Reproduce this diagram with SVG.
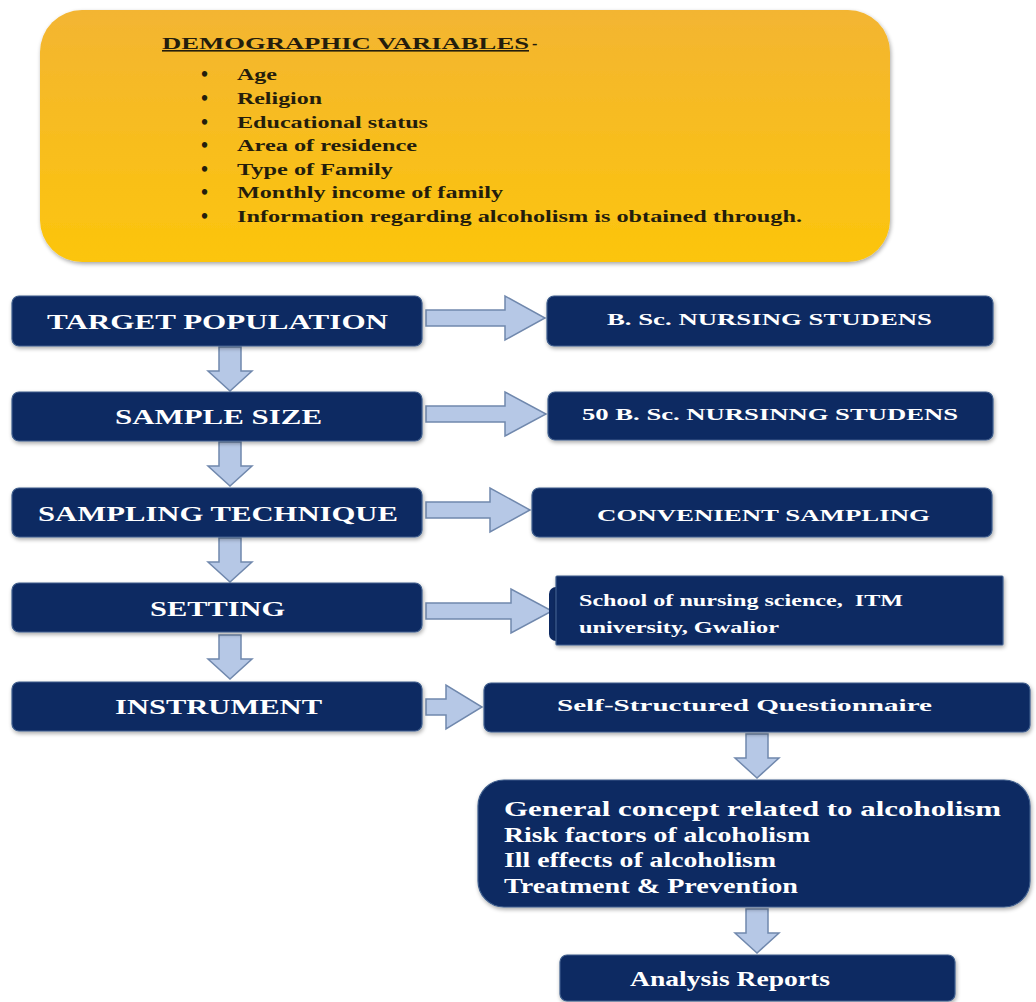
<svg xmlns="http://www.w3.org/2000/svg" width="1036" height="1002" viewBox="0 0 1036 1002">
<defs>
<linearGradient id="yg" x1="0" y1="0" x2="0" y2="1">
<stop offset="0" stop-color="#f3b532"/>
<stop offset="1" stop-color="#fcc50c"/>
</linearGradient>
<path id="darrow" d="M-11,0 H11 V24 H22 L0,44 L-22,24 H-11 Z"/>
<filter id="sh" x="-5%" y="-20%" width="110%" height="140%">
<feGaussianBlur in="SourceAlpha" stdDeviation="2"/>
<feOffset dx="1" dy="2"/>
<feComponentTransfer><feFuncA type="linear" slope="0.35"/></feComponentTransfer>
<feMerge><feMergeNode/><feMergeNode in="SourceGraphic"/></feMerge>
</filter>
</defs>
<style>
.box{fill:#0e2a62;stroke:#3d5d8c;stroke-width:1.2;filter:url(#sh)}
.arr{fill:#b6c8e6;stroke:#7088ad;stroke-width:1.5}
.lt{font-family:"Liberation Serif",serif;font-weight:bold;fill:#ffffff;font-size:21px}
.rt{font-family:"Liberation Serif",serif;font-weight:bold;fill:#ffffff;font-size:17px}
.gt{font-family:"Liberation Serif",serif;font-weight:bold;fill:#ffffff;font-size:22px}
.yt{font-family:"Liberation Serif",serif;font-weight:bold;fill:#241d0c;font-size:16px}
.bul{font-family:"Liberation Serif",serif;font-weight:bold;fill:#241d0c;font-size:20px}
</style>
<rect width="1036" height="1002" fill="#ffffff"/>

<g id="demographic">
<rect x="40" y="10" width="850" height="252" rx="42" fill="url(#yg)" filter="url(#sh)"/>
<text class="yt" x="162" y="49" textLength="367" lengthAdjust="spacingAndGlyphs" text-decoration="underline">DEMOGRAPHIC VARIABLES </text>
<text class="yt" x="532" y="49">-</text>
<g class="bul">
<text x="201" y="81">•</text>
<text x="201" y="105">•</text>
<text x="201" y="129">•</text>
<text x="201" y="152">•</text>
<text x="201" y="176">•</text>
<text x="201" y="199">•</text>
<text x="201" y="223">•</text>
</g>
<g class="yt">
<text x="237" y="80" textLength="40" lengthAdjust="spacingAndGlyphs">Age</text>
<text x="237" y="104" textLength="85" lengthAdjust="spacingAndGlyphs">Religion</text>
<text x="237" y="128" textLength="191" lengthAdjust="spacingAndGlyphs">Educational status</text>
<text x="237" y="151" textLength="180" lengthAdjust="spacingAndGlyphs">Area of residence</text>
<text x="237" y="175" textLength="156" lengthAdjust="spacingAndGlyphs">Type of Family</text>
<text x="237" y="198" textLength="266" lengthAdjust="spacingAndGlyphs">Monthly income of family</text>
<text x="237" y="222" textLength="565" lengthAdjust="spacingAndGlyphs">Information regarding alcoholism is obtained through.</text>
</g>
</g>

<g id="connectors">
<use href="#darrow" class="arr" x="230" y="347"/>
<use href="#darrow" class="arr" x="230" y="442"/>
<use href="#darrow" class="arr" x="230" y="538"/>
<use href="#darrow" class="arr" x="230" y="635"/>
<use href="#darrow" class="arr" x="757" y="734"/>
<use href="#darrow" class="arr" x="757" y="909"/>
<path class="arr" d="M426,310 H505 V296 L545,318 L505,340 V326 H426 Z"/>
<path class="arr" d="M426,406 H505 V392 L546,414 L505,436 V422 H426 Z"/>
<path class="arr" d="M426,502 H490 V488 L530,510 L490,532 V518 H426 Z"/>
<path class="arr" d="M426,603 H511 V589 L552,611 L511,633 V619 H426 Z"/>
<path class="arr" d="M426,699 H446 V685 L482,707 L446,729 V715 H426 Z"/>
</g>

<g id="target-population"><rect class="box" x="12" y="296" width="410" height="50" rx="7"/><text class="lt" x="47" y="329" textLength="341" lengthAdjust="spacingAndGlyphs">TARGET POPULATION</text></g>
<g id="sample-size"><rect class="box" x="12" y="392" width="410" height="49" rx="7"/><text class="lt" x="115" y="424" textLength="207" lengthAdjust="spacingAndGlyphs">SAMPLE SIZE</text></g>
<g id="sampling-technique"><rect class="box" x="12" y="488" width="410" height="49" rx="7"/><text class="lt" x="38" y="521" textLength="360" lengthAdjust="spacingAndGlyphs">SAMPLING TECHNIQUE</text></g>
<g id="setting"><rect class="box" x="12" y="583" width="410" height="49" rx="7"/><text class="lt" x="150" y="616" textLength="135" lengthAdjust="spacingAndGlyphs">SETTING</text></g>
<g id="instrument"><rect class="box" x="12" y="682" width="410" height="49" rx="7"/><text class="lt" x="115" y="714" textLength="207" lengthAdjust="spacingAndGlyphs">INSTRUMENT</text></g>

<g id="bsc-nursing"><rect class="box" x="547" y="296" width="446" height="50" rx="7"/><text class="rt" x="607" y="325" textLength="325" lengthAdjust="spacingAndGlyphs">B. Sc. NURSING STUDENS</text></g>
<g id="fifty-bsc"><rect class="box" x="548" y="392" width="445" height="48" rx="7"/><text class="rt" x="582" y="420" textLength="376" lengthAdjust="spacingAndGlyphs">50 B. Sc. NURSINNG STUDENS</text></g>
<g id="convenient"><rect class="box" x="532" y="488" width="460" height="49" rx="7"/><text class="rt" x="597" y="521" textLength="333" lengthAdjust="spacingAndGlyphs">CONVENIENT SAMPLING</text></g>
<g id="school"><rect x="549" y="587" width="20" height="54" rx="7" fill="#0e2a62"/><rect class="box" x="556" y="576" width="447" height="69" rx="1"/><text class="rt" x="579" y="606" textLength="324" lengthAdjust="spacingAndGlyphs">School of nursing science,&#160; ITM</text><text class="rt" x="579" y="633" textLength="200" lengthAdjust="spacingAndGlyphs">university, Gwalior</text></g>
<g id="questionnaire"><rect class="box" x="484" y="683" width="546" height="49" rx="7"/><text class="rt" x="557" y="711" textLength="375" lengthAdjust="spacingAndGlyphs">Self-Structured Questionnaire</text></g>
<g id="content"><rect class="box" x="478" y="780" width="552" height="127" rx="26"/>
<text class="gt" x="504" y="816" textLength="497" lengthAdjust="spacingAndGlyphs">General concept related to alcoholism</text>
<text class="gt" x="504" y="842" textLength="306" lengthAdjust="spacingAndGlyphs">Risk factors of alcoholism</text>
<text class="gt" x="504" y="867" textLength="272" lengthAdjust="spacingAndGlyphs">Ill effects of alcoholism</text>
<text class="gt" x="504" y="893" textLength="294" lengthAdjust="spacingAndGlyphs">Treatment &amp; Prevention</text></g>
<g id="analysis"><rect class="box" x="560" y="955" width="395" height="46" rx="7"/><text class="gt" x="630" y="986" textLength="200" lengthAdjust="spacingAndGlyphs">Analysis Reports</text></g>
</svg>
